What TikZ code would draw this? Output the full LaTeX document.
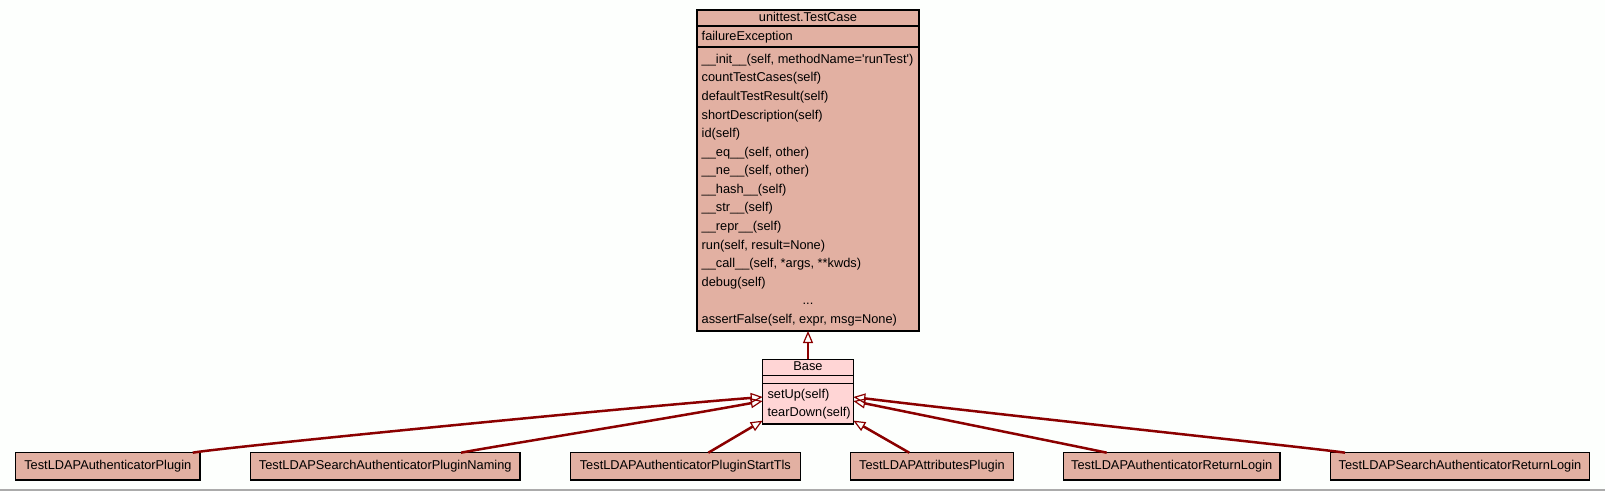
\documentclass[tikz,border=0pt]{standalone}
\usepackage{fontspec}
\setmainfont{Liberation Sans}
\usetikzlibrary{arrows.meta}
\definecolor{edgec}{HTML}{8B0000}
\definecolor{boxfill}{HTML}{E2B0A2}
\definecolor{basefill}{HTML}{FFD5D5}
\definecolor{bgc}{HTML}{FDFFFD}
\definecolor{rulec}{HTML}{ABABAB}
\begin{document}
\begin{tikzpicture}[x=1pt,y=-1pt,
  font=\fontsize{12.8}{15}\selectfont,
  classbox/.style={draw=black, line width=1.2pt, fill=boxfill, inner sep=0pt, outer sep=0pt},
  subclass/.style={classbox, minimum height=27.3pt, text height=9.5pt, text depth=3.5pt},
  sepline/.style={draw=black, line width=1.2pt},
  member/.style={anchor=base west, inner sep=0pt},
  ctitle/.style={anchor=base, inner sep=0pt},
  inh/.style={draw=edgec, line width=2.5pt, -{Triangle[open, length=12pt, width=10pt, line width=1.2pt]}}
]
\fill[bgc] (0,0) rectangle (1605,491);
\useasboundingbox (0,0) rectangle (1605,491);
\draw[rulec, line width=1.2pt] (0,490) -- (1605,490);

% unittest.TestCase
\node[classbox, minimum width=222pt, minimum height=321pt] (tc) at (808,170.5) {};
\draw[sepline] (tc.west |- 0,26) -- (tc.east |- 0,26);
\draw[sepline] (tc.west |- 0,47) -- (tc.east |- 0,47);
\node[ctitle] (tct) at (808,21.7) {unittest.TestCase};
\node[member] (tca) at (701.5,40.3) {failureException};
\node[member] (m1) at (701.5,63.3) {\_\_init\_\_(self, methodName=\textquotesingle runTest\textquotesingle)};
\node[member] (m2) at (701.5,81.87) {countTestCases(self)};
\node[member] (m3) at (701.5,100.44) {defaultTestResult(self)};
\node[member] (m4) at (701.5,119.01) {shortDescription(self)};
\node[member] (m5) at (701.5,137.58) {id(self)};
\node[member] (m6) at (701.5,156.15) {\_\_eq\_\_(self, other)};
\node[member] (m7) at (701.5,174.72) {\_\_ne\_\_(self, other)};
\node[member] (m8) at (701.5,193.29) {\_\_hash\_\_(self)};
\node[member] (m9) at (701.5,211.86) {\_\_str\_\_(self)};
\node[member] (m10) at (701.5,230.43) {\_\_repr\_\_(self)};
\node[member] (m11) at (701.5,249.0) {run(self, result=None)};
\node[member] (m12) at (701.5,267.57) {\_\_call\_\_(self, *args, **kwds)};
\node[member] (m13) at (701.5,286.14) {debug(self)};
\node[ctitle] (m14) at (808,304.71) {...};
\node[member] (m15) at (701.5,323.28) {assertFalse(self, expr, msg=None)};

% Base
\node[classbox, fill=basefill, minimum width=90.6pt, minimum height=64.7pt] (base) at (808,391.65) {};
\draw[sepline] (base.west |- 0,375.7) -- (base.east |- 0,375.7);
\draw[sepline] (base.west |- 0,383.3) -- (base.east |- 0,383.3);
\node[ctitle] (bt) at (808,370.7) {Base};
\node[member] (b1) at (767.3,398.3) {setUp(self)};
\node[member] (b2) at (767.3,416.3) {tearDown(self)};

% subclasses
\node[subclass, minimum width=184.4pt] (s1) at (107.8,466.35) {TestLDAPAuthenticatorPlugin};
\node[subclass, minimum width=269.5pt] (s2) at (385.25,466.35) {TestLDAPSearchAuthenticatorPluginNaming};
\node[subclass, minimum width=229.7pt] (s3) at (685.35,466.35) {TestLDAPAuthenticatorPluginStartTls};
\node[subclass, minimum width=162.9pt] (s4) at (931.95,466.35) {TestLDAPAttributesPlugin};
\node[subclass, minimum width=216.6pt] (s5) at (1171.7,466.35) {TestLDAPAuthenticatorReturnLogin};
\node[subclass, minimum width=258.6pt] (s6) at (1460,466.35) {TestLDAPSearchAuthenticatorReturnLogin};

% inheritance edges
\draw[inh] (base.north) -- (tc.south);
\draw[inh] ([xshift=-7.3pt]s1.north east) .. controls +(20,-4.2) and +(-150,11.7) .. ([yshift=-5.35pt]base.west);
\draw[inh] ([xshift=-59pt]s2.north east) .. controls +(20,-4.2) and +(-100,18.4) .. ([yshift=-9.35pt]base.west);
\draw[inh] ([xshift=23pt]s3.north) -- ([yshift=3.4pt]base.south west);
\draw[inh] ([xshift=-22.7pt]s4.north) -- ([yshift=3.4pt]base.south east);
\draw[inh] ([xshift=43.3pt]s5.north west) .. controls +(-20,-4.4) and +(100,20.5) .. ([yshift=-9.35pt]base.east);
\draw[inh] ([xshift=14.3pt]s6.north west) .. controls +(-20,-3.4) and +(150,18.3) .. ([yshift=-5.35pt]base.east);
\end{tikzpicture}
\end{document}
